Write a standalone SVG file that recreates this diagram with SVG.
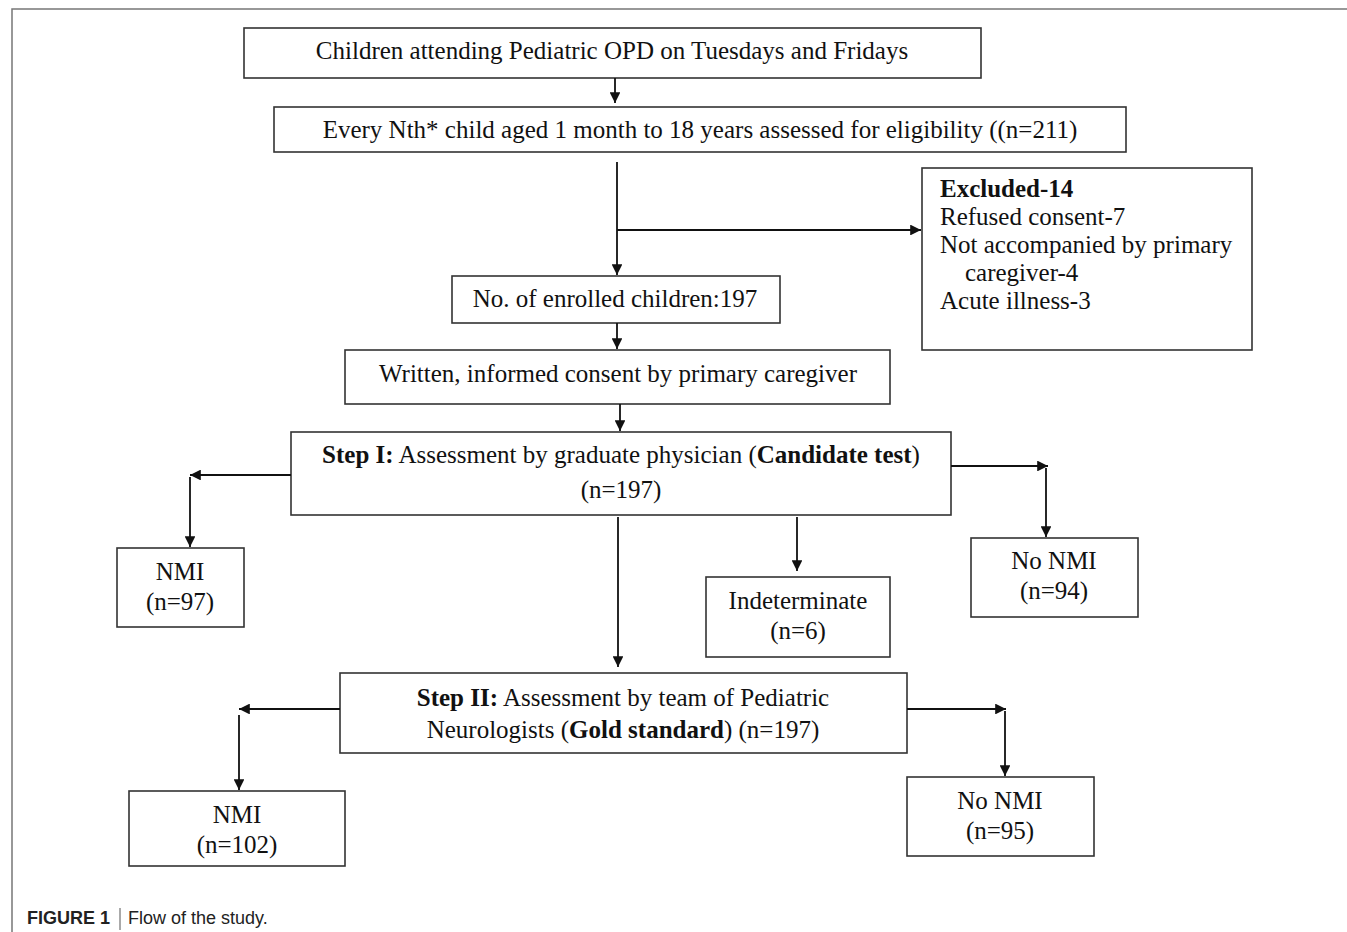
<svg xmlns="http://www.w3.org/2000/svg" width="1347" height="932" viewBox="0 0 1347 932">
<style>
.box{fill:#fff;stroke:#333;stroke-width:1.6}
.t{font-family:"Liberation Serif","Times New Roman",serif;font-size:25px;fill:#111}
.c{text-anchor:middle}
.b{font-weight:bold}
.ln{stroke:#111;stroke-width:1.8;fill:none}
.frame{stroke:#777;stroke-width:1.5;fill:none}
.cap{font-family:"Liberation Sans",Arial,sans-serif;font-size:18px;fill:#222}
</style>
<defs>
<marker id="ah" viewBox="0 0 10 10" refX="10" refY="5" markerWidth="6" markerHeight="6" orient="auto" markerUnits="strokeWidth">
<path d="M0,0 L10,5 L0,10 z" fill="#111"/>
</marker>
</defs>
<rect width="1347" height="932" fill="#fff"/>
<path class="frame" d="M12,932 V9 H1347"/>

<g id="n1"><rect class="box" x="244" y="28" width="737" height="50"/>
<text class="t c" x="612" y="59">Children attending Pediatric OPD on Tuesdays and Fridays</text></g>
<g id="n2"><rect class="box" x="274" y="107" width="852" height="45"/>
<text class="t c" x="700" y="138">Every Nth* child aged 1 month to 18 years assessed for eligibility ((n=211)</text></g>
<g id="excluded"><rect class="box" x="922" y="168" width="330" height="182"/>
<text class="t" x="940" y="197"><tspan class="b">Excluded-14</tspan></text>
<text class="t" x="940" y="225">Refused consent-7</text>
<text class="t" x="940" y="253">Not accompanied by primary</text>
<text class="t" x="965" y="281">caregiver-4</text>
<text class="t" x="940" y="309">Acute illness-3</text></g>
<g id="n3"><rect class="box" x="452" y="276" width="328" height="47"/>
<text class="t c" x="615" y="307">No. of enrolled children:197</text></g>
<g id="n4"><rect class="box" x="345" y="350" width="545" height="54"/>
<text class="t c" x="618" y="382">Written, informed consent by primary caregiver</text></g>
<g id="step1"><rect class="box" x="291" y="432" width="660" height="83"/>
<text class="t c" x="621" y="463"><tspan class="b">Step I:</tspan> Assessment by graduate physician (<tspan class="b">Candidate test</tspan>)</text>
<text class="t c" x="621" y="498">(n=197)</text></g>
<g id="nmi1"><rect class="box" x="117" y="548" width="127" height="79"/>
<text class="t c" x="180" y="580">NMI</text>
<text class="t c" x="180" y="610">(n=97)</text></g>
<g id="indet"><rect class="box" x="706" y="577" width="184" height="80"/>
<text class="t c" x="798" y="609">Indeterminate</text>
<text class="t c" x="798" y="639">(n=6)</text></g>
<g id="nonmi1"><rect class="box" x="971" y="538" width="167" height="79"/>
<text class="t c" x="1054" y="569">No NMI</text>
<text class="t c" x="1054" y="599">(n=94)</text></g>
<g id="step2"><rect class="box" x="340" y="673" width="567" height="80"/>
<text class="t c" x="623" y="706"><tspan class="b">Step II:</tspan> Assessment by team of Pediatric</text>
<text class="t c" x="623" y="738">Neurologists (<tspan class="b">Gold standard</tspan>) (n=197)</text></g>
<g id="nmi2"><rect class="box" x="129" y="791" width="216" height="75"/>
<text class="t c" x="237" y="823">NMI</text>
<text class="t c" x="237" y="853">(n=102)</text></g>
<g id="nonmi2"><rect class="box" x="907" y="777" width="187" height="79"/>
<text class="t c" x="1000" y="809">No NMI</text>
<text class="t c" x="1000" y="839">(n=95)</text></g>

<g id="connectors">
<path class="ln" marker-end="url(#ah)" d="M615,78 V103"/>
<path class="ln" marker-end="url(#ah)" d="M617,162 V275"/>
<path class="ln" marker-end="url(#ah)" d="M617,230 H921"/>
<path class="ln" marker-end="url(#ah)" d="M617,323 V349"/>
<path class="ln" marker-end="url(#ah)" d="M620,404 V431"/>
<path class="ln" marker-end="url(#ah)" d="M291,475 H190"/>
<path class="ln" marker-end="url(#ah)" d="M190,477 V547"/>
<path class="ln" marker-end="url(#ah)" d="M951,466 H1048"/>
<path class="ln" marker-end="url(#ah)" d="M1046,468 V537"/>
<path class="ln" marker-end="url(#ah)" d="M797,517 V571"/>
<path class="ln" marker-end="url(#ah)" d="M618,517 V667"/>
<path class="ln" marker-end="url(#ah)" d="M340,709 H239"/>
<path class="ln" marker-end="url(#ah)" d="M239,715 V790"/>
<path class="ln" marker-end="url(#ah)" d="M907,709 H1006"/>
<path class="ln" marker-end="url(#ah)" d="M1005,711 V776"/>
</g>

<g id="caption">
<text class="cap" x="27" y="924"><tspan font-weight="bold">FIGURE 1</tspan></text>
<line x1="120" y1="908" x2="120" y2="930" stroke="#555" stroke-width="1"/>
<text class="cap" x="128" y="924">Flow of the study.</text>
</g>
</svg>
